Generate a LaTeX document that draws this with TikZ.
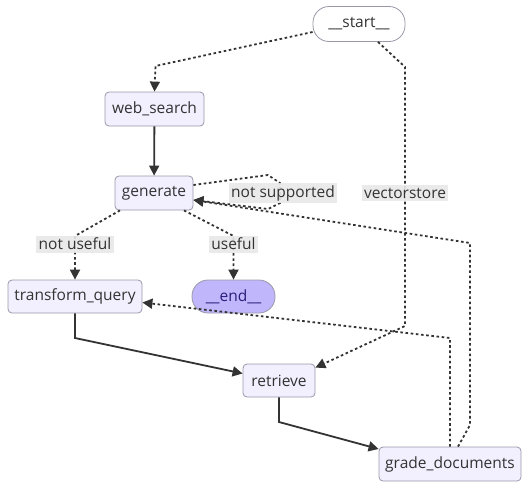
\documentclass[tikz,border=0pt]{standalone}
\usepackage{fontspec}
\setmainfont{Open Sans}
\usetikzlibrary{arrows.meta,calc}
\definecolor{edgec}{HTML}{333333}
\definecolor{nodefill}{HTML}{F2F0FF}
\definecolor{nodedraw}{HTML}{9A98A8}
\definecolor{endfill}{HTML}{BFB6FC}
\definecolor{endtext}{HTML}{2B1D7A}
\definecolor{lblfill}{HTML}{E8E8E8}
\tikzset{
  x=1pt, y=-1pt,
  box/.style={draw=nodedraw, fill=nodefill, rounded corners=4pt, line width=0.8pt,
    inner sep=0pt, text=edgec, font=\fontsize{15.5}{17}\selectfont},
  stadium/.style={box, rounded corners=16pt},
  solidedge/.style={draw=edgec, line width=1.8pt, -{Triangle[length=10pt,width=10pt]}},
  dotedge/.style={draw=edgec, line width=1.8pt, dash pattern=on 2.6pt off 2.6pt,
    -{Triangle[length=10pt,width=10pt]}},
  lbl/.style={fill=lblfill, fill opacity=0.9, text opacity=1, text=edgec, inner sep=2.5pt,
    font=\fontsize{15.5}{17}\selectfont}
}
\begin{document}
\begin{tikzpicture}
\useasboundingbox (0,0) rectangle (529,490);
% nodes
\node[stadium, fill=white, minimum width=92pt, minimum height=35pt] (start) at (359,24) {\_\_start\_\_};
\node[box, minimum width=99pt, minimum height=34pt] (web) at (154.5,109) {web\_search};
\node[box, minimum width=78pt, minimum height=34pt] (gen) at (154,193) {generate};
\node[box, minimum width=134pt, minimum height=33pt] (tq) at (75,296.5) {transform\_query};
\node[stadium, fill=endfill, text=endtext, minimum width=83pt, minimum height=33pt] (end) at (233.5,296.5) {\_\_end\_\_};
\node[box, minimum width=72pt, minimum height=33pt] (ret) at (279,380.5) {retrieve};
\node[box, minimum width=142pt, minimum height=34pt] (grade) at (450,464) {grade\_documents};
% bend points
\coordinate (s1) at (155.5,66);
\coordinate (v1) at (405,67);
\coordinate (v2) at (405,326);
\coordinate (ns1) at (268,175);
\coordinate (ns2) at (280,183);
\coordinate (ns3) at (280,203);
\coordinate (ns4) at (268,209);
\coordinate (g1) at (470,425);
\coordinate (g2) at (470,243);
\coordinate (t1) at (450,338);
\coordinate (nu) at (75,236);
\coordinate (us) at (233.5,236);
\coordinate (r1) at (75,338);
\coordinate (r2) at (279,422);
% edges
\draw[dotedge] ([yshift=-8pt]start.west) -- (s1) -- (web.north);
\draw[dotedge] ([xshift=19pt]start.south) -- (v1) -- (v2) -- ([yshift=-4pt]ret.north east);
\draw[solidedge] (web) -- (gen);
\draw[dotedge] ([yshift=8pt]gen.east) -- (ns1) -- (ns2) -- (ns3) -- (ns4) -- ([yshift=-7pt]gen.east);
\draw[dotedge] ([xshift=8pt]grade.north) -- (g1) -- (g2) -- ([yshift=-7pt]gen.east);
\draw[dotedge] (grade.north) -- (t1) -- ([yshift=-6pt]tq.east);
\draw[dotedge] ([xshift=-34pt]gen.south) -- (nu) -- (tq.north);
\draw[dotedge] ([xshift=30pt]gen.south) -- (us) -- (end.north);
\draw[solidedge] (tq.south) -- (r1) -- ([yshift=7pt]ret.west);
\draw[solidedge] (ret.south) -- (r2) -- ([yshift=15pt]grade.west);
% labels
\node[lbl] (lvs) at (405,193) {vectorstore};
\node[lbl] (lns) at (283,193) {not supported};
\node[lbl] (lnu) at (75,244) {not useful};
\node[lbl] (lus) at (233.5,244) {useful};
\end{tikzpicture}
\end{document}
